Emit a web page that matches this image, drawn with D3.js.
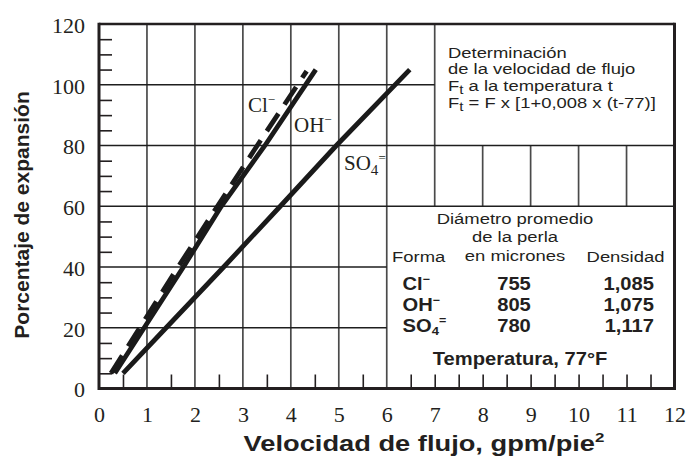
<!DOCTYPE html>
<html><head><meta charset="utf-8">
<script src="https://cdn.jsdelivr.net/npm/d3@7"></script>
<style>body{margin:0;background:#fff} svg{display:block}</style>
</head><body><svg id="c" width="686" height="456"></svg>
<script>
// ---- data ----
const xTicks = [0,1,2,3,4,5,6,7,8,9,10,11,12];
const yTicks = [0,20,40,60,80,100,120];
const clX  = [0.25, 1.65, 2.47, 3.30, 4.33];
const clY  = [5, 40, 60, 80, 104.5];
const ohX  = [0.33, 1.76, 2.55, 3.46, 4.52];
const ohY  = [5, 40, 60, 80, 105];
const so4X = [0.5, 1.4, 2.6, 3.78, 4.95, 6.48];
const so4Y = [5, 20, 40, 60, 80, 105];
const formaBase = ["Cl", "OH", "SO"];
const formaSub  = ["", "", "4"];
const formaSup  = ["\u2212", "\u2212", "="];
const diametros = ["755", "805", "780"];
const densidades = ["1,085", "1,075", "1,117"];
const noteLines = [
  [["Determinación"]],
  [["de la velocidad de flujo"]],
  [["F"], ["t", "sub"], [" a la temperatura t"]],
  [["F"], ["t", "sub"], [" = F x [1+0,008 x (t-77)]"]]
];

// ---- setup ----
const svg = d3.select("#c");
const x = d3.scaleLinear([0, 12], [99, 674.5]);
const y = d3.scaleLinear([0, 120], [388.5, 24]);
const INK = "#231f20";
const SANS = "'Liberation Sans', Arial, Helvetica, sans-serif";
const SERIF = "'Liberation Serif', 'Times New Roman', serif";

function rich(g, px, py, parts, o) {
  const t = g.append("text")
    .attr("transform", `translate(${px},${py}) scale(${o.sx || 1},1)`)
    .attr("font-family", o.ff).attr("font-size", o.fs)
    .attr("font-weight", o.fw || "normal")
    .attr("text-anchor", o.anchor || "start").attr("fill", INK);
  let cur = 0;
  parts.forEach(p => {
    const [s, k] = Array.isArray(p) ? p : [p, "n"];
    if (!s) return;
    let target = 0, fs = o.fs;
    if (k === "sup") { target = -o.fs * 0.4; fs = o.fs * (o.supScale || 0.62); }
    if (k === "sub") { target = o.fs * (o.subShift || 0.28); fs = o.fs * (o.subScale || 0.65); }
    t.append("tspan").attr("dy", target - cur).attr("font-size", fs).text(s);
    cur = target;
  });
  return t;
}

// ---- grid ----
const grid = svg.append("g");
const vSeg = [[1,0,120],[2,0,120],[3,0,120],[4,0,120],[5,0,120],[6,0,120],[7,60,120],[8,60,80],[9,60,80],[10,60,80],[11,60,80]];
const hSeg = [[20,0,6],[40,0,6],[60,0,12],[80,0,12],[100,0,7]];
grid.selectAll("line.v").data(vSeg).join("line").attr("class","v")
  .attr("x1", d => x(d[0])).attr("x2", d => x(d[0]))
  .attr("y1", d => y(d[1])).attr("y2", d => y(d[2]))
  .attr("stroke", "#4a4a4a").attr("stroke-width", 1.7);
grid.selectAll("line.h").data(hSeg).join("line").attr("class","h")
  .attr("y1", d => y(d[0])).attr("y2", d => y(d[0]))
  .attr("x1", d => x(d[1])).attr("x2", d => x(d[2]))
  .attr("stroke", "#1e1e1e").attr("stroke-width", 1.5);

// minor ticks via axes
const minorX = d3.range(0.5, 12, 0.5).filter(v => v < 6 ? v % 1 !== 0 : v > 6);
const minorY = d3.range(5, 120, 5).filter(v => v % 20 !== 0);
const mx = svg.append("g").attr("transform", `translate(0,${y(0)})`)
  .call(d3.axisBottom(x).tickValues(minorX).tickSize(-14).tickFormat(""));
mx.select(".domain").remove();
mx.selectAll("line").attr("stroke", INK).attr("stroke-width", 1.6);
const my = svg.append("g").attr("transform", `translate(${x(0)},0)`)
  .call(d3.axisLeft(y).tickValues(minorY).tickSize(-13).tickFormat(""));
my.select(".domain").remove();
my.selectAll("line").attr("stroke", INK).attr("stroke-width", 1.6);

// frame
const fr = svg.append("g").attr("stroke", INK).attr("fill", "none");
fr.append("line").attr("x1", x(0)).attr("x2", x(12)).attr("y1", y(120)).attr("y2", y(120)).attr("stroke-width", 2.6);
fr.append("line").attr("x1", x(0)).attr("x2", x(12)).attr("y1", y(0)).attr("y2", y(0)).attr("stroke-width", 3);
fr.append("line").attr("x1", x(0)).attr("x2", x(0)).attr("y1", y(0)+1.5).attr("y2", y(120)-1.3).attr("stroke-width", 3);
fr.append("line").attr("x1", x(12)).attr("x2", x(12)).attr("y1", y(0)+1.5).attr("y2", y(120)-1.3).attr("stroke-width", 3);

// tick labels
const ax = svg.append("g").attr("transform", `translate(0,${y(0)})`)
  .call(d3.axisBottom(x).tickValues(xTicks).tickSize(0).tickFormat(d3.format("d")));
ax.select(".domain").remove();
ax.selectAll("text").attr("y", 33.5).attr("dy", null)
  .attr("font-family", SERIF).attr("font-size", 22).attr("fill", INK);
const ay = svg.append("g").attr("transform", `translate(85,0)`)
  .call(d3.axisLeft(y).tickValues(yTicks).tickSize(0).tickPadding(0).tickFormat(d3.format("d")));
ay.select(".domain").remove();
ay.selectAll("text").attr("x", 0).attr("dy", null).attr("y", 8.4)
  .attr("font-family", SERIF).attr("font-size", 22).attr("fill", INK);

// ---- series ----
const line = d3.line().x(d => x(d[0])).y(d => y(d[1]));
const series = [
  {xs: clX, ys: clY, dash: "21,11"},
  {xs: ohX, ys: ohY, dash: null},
  {xs: so4X, ys: so4Y, dash: null}
];
svg.append("g").selectAll("path").data(series).join("path")
  .attr("d", s => line(s.xs.map((v, i) => [v, s.ys[i]])))
  .attr("fill", "none").attr("stroke", "#1a1a1a").attr("stroke-width", 4.8)
  .attr("stroke-dasharray", s => s.dash);

// line labels (serif)
const lab = svg.append("g");
rich(lab, 248, 112, ["Cl", ["\u2212", "sup"]], {ff: SERIF, fs: 21});
rich(lab, 294, 132, ["OH", ["\u2212", "sup"]], {ff: SERIF, fs: 21});
rich(lab, 344, 170, ["SO", ["4", "sub"], ["=", "sup"]], {ff: SERIF, fs: 21, subScale: 0.72, subShift: 0.22});

// ---- top-right note (one text block) ----
const nfs = 14.5, nsx = 1.27;
const noteBase = [58, 74.5, 91, 108];
const note = svg.append("text")
  .attr("transform", `translate(448,0) scale(${nsx},1)`)
  .attr("font-family", SANS).attr("font-size", nfs).attr("fill", INK);
noteLines.forEach((parts, li) => {
  parts.forEach((p, pi) => {
    const ts = note.append("tspan").text(p[0]);
    if (pi === 0) ts.attr("x", 0).attr("y", noteBase[li]);
    if (p[1] === "sub") ts.attr("dy", nfs * 0.18).attr("font-size", nfs * 0.82);
    else if (pi > 0 && parts[pi - 1][1] === "sub") ts.attr("dy", -nfs * 0.18);
  });
});

// ---- table ----
const tb = svg.append("g");
const tfs = 15.5, tsx = 1.19;
rich(tb, 515, 224, ["Diámetro promedio"], {ff: SANS, fs: tfs, sx: tsx, anchor: "middle"});
rich(tb, 515, 241.8, ["de la perla"], {ff: SANS, fs: tfs, sx: tsx, anchor: "middle"});
rich(tb, 392, 261.5, ["Forma"], {ff: SANS, fs: tfs, sx: tsx});
rich(tb, 515, 260.5, ["en micrones"], {ff: SANS, fs: tfs, sx: tsx, anchor: "middle"});
rich(tb, 625.5, 261.5, ["Densidad"], {ff: SANS, fs: tfs, sx: tsx, anchor: "middle"});
const rowY = [290, 310.7, 331.5];
formaBase.forEach((b, i) => {
  rich(tb, 402.5, rowY[i], [b, [formaSub[i], "sub"], [formaSup[i], "sup"]],
       {ff: SANS, fs: 18, fw: "bold", sx: 1.12, subScale: 0.65, subShift: 0.22});
  rich(tb, 514, rowY[i], [diametros[i]], {ff: SANS, fs: 18, fw: "bold", sx: 1.12, anchor: "middle"});
  rich(tb, 654, rowY[i], [densidades[i]], {ff: SANS, fs: 18, fw: "bold", sx: 1.12, anchor: "end"});
});
rich(tb, 520, 365, ["Temperatura, 77°F"], {ff: SANS, fs: 18, fw: "bold", sx: 1.12, anchor: "middle"});

// ---- axis titles ----
rich(svg, 424, 451, ["Velocidad de flujo, gpm/pie", ["2", "sup"]], {ff: SANS, fs: 22, fw: "bold", sx: 1.24, anchor: "middle"});
svg.append("text").attr("transform", "translate(28.5,215) rotate(-90)")
  .attr("text-anchor", "middle").attr("font-family", SANS).attr("font-weight", "bold")
  .attr("font-size", 21).attr("fill", INK).text("Porcentaje de expansión");
</script></body></html>
